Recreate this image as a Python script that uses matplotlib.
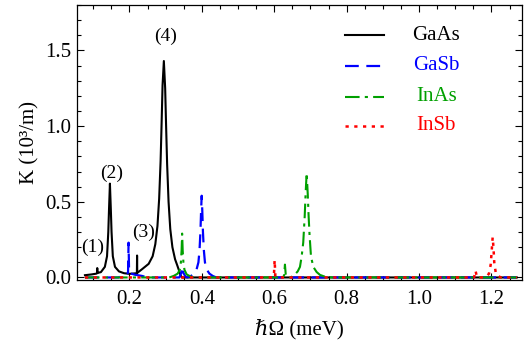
import matplotlib
matplotlib.use("Agg")
import matplotlib.pyplot as plt
from matplotlib.ticker import MultipleLocator

plt.rcParams['font.family'] = ['Liberation Serif', 'DejaVu Serif']
plt.rcParams['font.size'] = 15

gaas_x = [0.077, 0.095, 0.108, 0.1108, 0.111, 0.1113, 0.121, 0.132, 0.138, 0.1415, 0.1435, 0.146,
          0.1485, 0.1505, 0.154, 0.160, 0.171, 0.185, 0.200, 0.2205, 0.221, 0.2215, 0.235, 0.253,
          0.264, 0.2714, 0.2773, 0.282, 0.286, 0.2888, 0.2914, 0.295, 0.2986, 0.3012, 0.304, 0.308,
          0.3127, 0.3186, 0.326, 0.332, 0.337, 0.341, 0.345, 1.27]
gaas_y = [0.015, 0.020, 0.025, 0.028, 0.062, 0.030, 0.035, 0.070, 0.14, 0.30, 0.45, 0.62,
          0.45, 0.30, 0.14, 0.070, 0.040, 0.028, 0.024, 0.028, 0.145, 0.030, 0.055, 0.090,
          0.14, 0.22, 0.34, 0.52, 0.77, 1.02, 1.27, 1.43, 1.25, 1.00, 0.75, 0.50,
          0.32, 0.20, 0.12, 0.08, 0.045, 0.015, 0.0, 0.0]

gasb_x = [0.077, 0.170, 0.185, 0.196, 0.1975, 0.199, 0.215, 0.235, 0.250, 0.338, 0.343, 0.346,
          0.349, 0.355, 0.360, 0.370, 0.378, 0.385, 0.3905, 0.3935, 0.396, 0.398, 0.3995, 0.401,
          0.403, 0.4055, 0.4085, 0.414, 0.421, 0.430, 0.440, 1.27]
gasb_y = [0.0, 0.0, 0.018, 0.03, 0.23, 0.03, 0.018, 0.01, 0.0, 0.0, 0.03, 0.07,
          0.03, 0.005, 0.0, 0.01, 0.025, 0.05, 0.10, 0.18, 0.30, 0.45, 0.54, 0.45,
          0.30, 0.18, 0.10, 0.05, 0.025, 0.01, 0.0, 0.0]

inas_x = [0.077, 0.310, 0.322, 0.333, 0.339, 0.342, 0.344, 0.3455, 0.347, 0.349, 0.352, 0.358,
          0.370, 0.380, 0.622, 0.627, 0.6295, 0.632, 0.640, 0.645, 0.655, 0.6647, 0.671, 0.6757,
          0.680, 0.684, 0.6865, 0.6895, 0.6925, 0.695, 0.6975, 0.7014, 0.7078, 0.717, 0.7262,
          0.740, 0.760, 1.27]
inas_y = [0.0, 0.0, 0.01, 0.025, 0.05, 0.10, 0.18, 0.29, 0.18, 0.10, 0.05, 0.02,
          0.005, 0.0, 0.0, 0.01, 0.085, 0.01, 0.0, 0.0, 0.015, 0.04, 0.07, 0.14,
          0.23, 0.40, 0.55, 0.69, 0.55, 0.40, 0.28, 0.14, 0.07, 0.036, 0.017,
          0.005, 0.0, 0.0]

insb_x = [0.077, 0.595, 0.599, 0.601, 0.603, 0.607, 1.152, 1.156, 1.160, 1.180, 1.188, 1.193,
          1.1978, 1.2005, 1.2033, 1.2055, 1.2077, 1.2116, 1.218, 1.226, 1.27]
insb_y = [0.0, 0.0, 0.01, 0.115, 0.01, 0.0, 0.0, 0.045, 0.0, 0.0, 0.01, 0.025,
          0.083, 0.17, 0.265, 0.20, 0.10, 0.035, 0.01, 0.0, 0.0]

labels = ['GaAs', 'GaSb', 'InAs', 'InSb']
colors = ['black', '#0000ff', '#00a000', '#ff0000']
peak_tags = ['(1)', '(2)', '(3)', '(4)']
tag_x = [0.099, 0.152, 0.240, 0.301]
tag_y = [0.20, 0.69, 0.295, 1.595]

fig = plt.figure(figsize=(5.28, 3.48), dpi=100)
ax = fig.add_axes([0.1458, 0.194, 0.8419, 0.7916])

styles = ['-', (0, (6.2, 3.4)), (0, (7, 2.5, 1.5, 2.5)), (0, (1.3, 2.2))]
widths = [1.5, 1.6, 1.5, 1.8]
series = [(gaas_x, gaas_y), (gasb_x, gasb_y), (inas_x, inas_y), (insb_x, insb_y)]
for (xs, ys), c, ls, w in zip(series, colors, styles, widths):
    ax.plot(xs, ys, color=c, linestyle=ls, lw=w)

for t, x, y in zip(peak_tags, tag_x, tag_y):
    ax.text(x, y, t, ha='center', va='center', fontsize=14)

# legend drawn by hand so the names sit centred
row_y = [0.891, 0.779, 0.667, 0.561]
for lab, c, ls, w, y in zip(labels, colors, styles, widths, row_y):
    ax.plot([0.603, 0.691], [y, y], transform=ax.transAxes, color=c, linestyle=ls, lw=w)
    ax.text(0.808, y, lab, transform=ax.transAxes, color=c, ha='center', va='center')

ax.set_xlim(0.055, 1.283)
ax.set_ylim(-0.02, 1.8)
ax.xaxis.set_major_locator(MultipleLocator(0.2))
ax.xaxis.set_minor_locator(MultipleLocator(0.05))
ax.yaxis.set_major_locator(MultipleLocator(0.5))
ax.yaxis.set_minor_locator(MultipleLocator(0.1))
ax.tick_params(which='both', direction='in', top=True, right=True, width=0.8)
ax.tick_params(which='major', length=5)
ax.tick_params(which='minor', length=3)
ax.tick_params(axis='x', pad=7)
ax.tick_params(axis='y', pad=4)
ax.set_xticks([0.2, 0.4, 0.6, 0.8, 1.0, 1.2])
ax.set_xticklabels(['0.2', '0.4', '0.6', '0.8', '1.0', '1.2'])
ax.set_yticks([0.0, 0.5, 1.0, 1.5])
ax.set_yticklabels(['0.0', '0.5', '1.0', '1.5'])
for s in ax.spines.values():
    s.set_linewidth(0.9)

ax.set_xlabel('ℏΩ (meV)', labelpad=7)
ax.set_ylabel('K (10³/m)', labelpad=4)

fig.savefig('out.png', dpi=100)
